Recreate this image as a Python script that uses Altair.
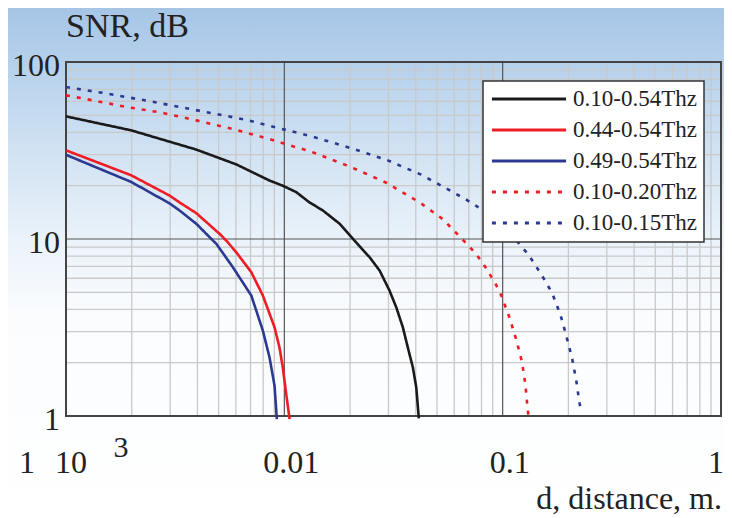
import altair as alt
import pandas as pd

# ---------------- data ----------------
series_names = ["0.10-0.54Thz", "0.44-0.54Thz", "0.49-0.54Thz", "0.10-0.20Thz", "0.10-0.15Thz"]
series_colors = ["#1a1a1a", "#ee1c25", "#2b3990", "#ee1c25", "#2b3990"]
series_dash = [[1, 0], [1, 0], [1, 0], [4, 7], [4, 7]]

d_black = [0.001, 0.00199, 0.00395, 0.00602, 0.00855, 0.00984, 0.01134, 0.01303, 0.01501, 0.0179,
           0.02094, 0.02457, 0.0273, 0.0303, 0.03256, 0.0349, 0.03677, 0.0388, 0.0402, 0.0413]
snr_black = [49.3, 41.1, 32.0, 26.4, 21.4, 20.0, 18.4, 16.1, 14.5, 12.2,
             9.8, 7.89, 6.64, 5.12, 4.11, 3.17, 2.44, 1.88, 1.45, 0.97]

d_red = [0.001, 0.00199, 0.00298, 0.00331, 0.00395, 0.00505, 0.00542, 0.00602, 0.00706, 0.00797,
         0.00902, 0.0095, 0.00984, 0.0102, 0.01057]
snr_red = [31.7, 22.9, 17.6, 16.1, 14.0, 10.7, 9.8, 8.42, 6.49, 4.8,
           3.17, 2.44, 1.88, 1.33, 0.96]

d_blue = [0.001, 0.00199, 0.00298, 0.00331, 0.00395, 0.00471, 0.00488, 0.00581, 0.00706, 0.00797,
          0.00855, 0.00902, 0.00924]
snr_blue = [29.9, 21.0, 15.9, 14.5, 12.2, 9.8, 9.4, 6.93, 4.79, 3.04,
            2.15, 1.48, 0.96]

d_rdot = [0.001, 0.00133, 0.00189, 0.00273, 0.00395, 0.00581, 0.00855, 0.01057, 0.01303, 0.01988,
          0.0293, 0.0423, 0.0532, 0.0657, 0.0736, 0.0807, 0.0928, 0.0986, 0.1076, 0.1154,
          0.1225, 0.127, 0.1297, 0.1315]
snr_rdot = [64.8, 60.7, 55.7, 51.8, 46.8, 41.8, 36.7, 33.8, 31.4, 25.7,
            20.8, 15.9, 12.94, 9.9, 8.53, 7.4, 5.58, 4.79, 3.58, 2.70,
            2.03, 1.52, 1.14, 0.98]

d_bdot = [0.001, 0.00149, 0.00244, 0.00399, 0.00655, 0.00951, 0.01303, 0.01988, 0.0293, 0.0423,
          0.0532, 0.0681, 0.0762, 0.1115, 0.1204, 0.1305, 0.1504, 0.1687, 0.1841, 0.1954,
          0.2083, 0.2174, 0.2250, 0.2298]
snr_bdot = [72.2, 66.8, 59.9, 53.3, 47.4, 42.2, 38.3, 32.8, 28.05, 23.1,
            19.8, 16.7, 15.3, 10.47, 9.19, 8.25, 6.3, 4.94, 3.72, 2.85,
            2.10, 1.58, 1.18, 1.05]

x_tick_values = [0.01, 0.1]
x_tick_labels = ["0.01", "0.1"]
x_last_value = 1
x_last_label = "1"
y_tick_values = [1, 10, 100]
y_tick_labels = ["1", "10", "100"]
x_minor = [k * 10.0 ** e for e in (-3, -2, -1) for k in range(2, 10)]
x_major = [0.01, 0.1]
y_minor = [k * 10.0 ** e for e in (0, 1) for k in range(2, 10)]
y_major = [10]
y_title = "SNR, dB"
x_title = "d, distance, m."

# ---------------- table ----------------
rows = []
for name, xs, ys in zip(series_names,
                        [d_black, d_red, d_blue, d_rdot, d_bdot],
                        [snr_black, snr_red, snr_blue, snr_rdot, snr_bdot]):
    for i, (xv, yv) in enumerate(zip(xs, ys)):
        rows.append({"series": name, "d": xv, "snr": yv, "i": i})
df = pd.DataFrame(rows)

# ---------------- layout ----------------
W, H = 655, 354
PL, PT, PR, PB = 58, 54, 3, 104
FONT = "Liberation Serif"
TXT = "#222222"

xscale = alt.Scale(type="log", domain=[0.001, 1], nice=False)
yscale = alt.Scale(type="log", domain=[1, 100], nice=False)
one = pd.DataFrame({"a": [0]})

bg = alt.Chart(one).mark_rect(
    color=alt.LinearGradient(
        gradient="linear", x1=0, x2=0, y1=0, y2=1,
        stops=[alt.GradientStop(color="#a6c5e6", offset=0),
               alt.GradientStop(color="#bcd5ee", offset=0.15),
               alt.GradientStop(color="#d4e4f3", offset=0.3),
               alt.GradientStop(color="#eaf2fa", offset=0.45),
               alt.GradientStop(color="#fafcfe", offset=0.6),
               alt.GradientStop(color="#ffffff", offset=1)]),
).encode(x=alt.value(-PL), x2=alt.value(W + PR), y=alt.value(-PT), y2=alt.value(H + PB))

gx_minor = alt.Chart(pd.DataFrame({"v": x_minor})).mark_rule(color="#c9c9c9", strokeWidth=1.3).encode(
    x=alt.X("v:Q", scale=xscale, axis=None))
gy_minor = alt.Chart(pd.DataFrame({"v": y_minor})).mark_rule(color="#c9c9c9", strokeWidth=1.3).encode(
    y=alt.Y("v:Q", scale=yscale, axis=None))
gx_major = alt.Chart(pd.DataFrame({"v": x_major})).mark_rule(color="#555555", strokeWidth=1.2).encode(
    x=alt.X("v:Q", scale=xscale, axis=None))
gy_major = alt.Chart(pd.DataFrame({"v": y_major})).mark_rule(color="#555555", strokeWidth=1.2).encode(
    y=alt.Y("v:Q", scale=yscale, axis=None))

frame = alt.Chart(one).mark_rect(
    filled=False, stroke="#444444", strokeWidth=2
).encode(x=alt.X(datum=0.001, scale=xscale, axis=None), x2=alt.datum(1),
         y=alt.Y(datum=1, scale=yscale, axis=None), y2=alt.datum(100))

legend_def = alt.Legend(title=None, orient="none", legendX=417, legendY=19,
                        symbolType="stroke", symbolSize=5500, symbolStrokeWidth=3, clipHeight=22,
                        labelFont=FONT, labelFontSize=23, labelColor=TXT, labelOffset=5,
                        labelLimit=300, rowPadding=8, padding=7,
                        fillColor="#ffffff", strokeColor="#333333")

lines = alt.Chart(df).mark_line(strokeWidth=2.6).encode(
    x=alt.X("d:Q", scale=xscale, axis=None),
    y=alt.Y("snr:Q", scale=yscale, axis=None),
    color=alt.Color("series:N", scale=alt.Scale(domain=series_names, range=series_colors),
                    legend=legend_def),
    strokeDash=alt.StrokeDash("series:N", scale=alt.Scale(domain=series_names, range=series_dash),
                              legend=legend_def),
    order="i:Q",
)

# tick labels placed through the scales
x_labels = alt.Chart(pd.DataFrame({"v": x_tick_values, "t": x_tick_labels})).mark_text(
    font=FONT, fontSize=32, color=TXT, align="center", baseline="alphabetic", dx=7
).encode(x=alt.X("v:Q", scale=xscale, axis=None), y=alt.value(H + 57), text="t:N")

x_last = alt.Chart(pd.DataFrame({"v": [x_last_value], "t": [x_last_label]})).mark_text(
    font=FONT, fontSize=32, color=TXT, align="right", baseline="alphabetic", dx=PR
).encode(x=alt.X("v:Q", scale=xscale, axis=None), y=alt.value(H + 57), text="t:N")

y_labels = alt.Chart(pd.DataFrame({"v": y_tick_values, "t": y_tick_labels})).mark_text(
    font=FONT, fontSize=32, color=TXT, align="right", baseline="middle", dy=4
).encode(y=alt.Y("v:Q", scale=yscale, axis=None), x=alt.value(-6), text="t:N")

def first_label(txt, dx, y, size):
    return alt.Chart(one).mark_text(
        text=txt, font=FONT, fontSize=size, color=TXT, align="center", baseline="alphabetic", dx=dx
    ).encode(x=alt.X(datum=0.001, scale=xscale, axis=None), y=alt.value(y))

title_y = alt.Chart(one).mark_text(
    text=y_title, font=FONT, fontSize=34, color=TXT, align="left", baseline="alphabetic"
).encode(x=alt.value(0), y=alt.value(-25))
title_x = alt.Chart(one).mark_text(
    text=x_title, font=FONT, fontSize=32, color=TXT, align="right", baseline="alphabetic"
).encode(x=alt.value(W + 1), y=alt.value(H + 93))

chart = alt.layer(
    bg, gx_minor, gy_minor, gx_major, gy_major, frame, lines,
    x_labels, x_last, y_labels,
    first_label("1", -39, H + 57, 32), first_label("10", 5, H + 57, 32), first_label("3", 55, H + 41, 30),
    title_y, title_x,
).properties(
    width=W, height=H,
    autosize=alt.AutoSizeParams(type="none"),
    padding={"left": PL, "top": PT, "right": PR, "bottom": PB},
).configure_view(stroke=None).configure_legend(strokeWidth=1.5)

chart.save("out.html", embed_options={"renderer": "svg", "actions": False})
